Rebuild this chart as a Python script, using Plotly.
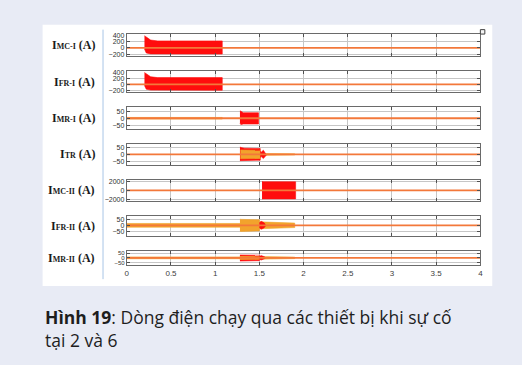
import plotly.graph_objects as go

W, H = 522, 365

# ---- time axis ----
time_range = [0, 4]
x_ticks = [0, 0.5, 1, 1.5, 2, 2.5, 3, 3.5, 4]
x_tick_text = ["0", "0.5", "1", "1.5", "2", "2.5", "3", "3.5", "4"]

# ---- panels (top to bottom) ----
panel_subscripts = ["MC-I", "FR-I", "MR-I", "TR", "MC-II", "FR-II", "MR-II"]
y_ranges = [[-270, 430], [-270, 430], [-75, 80], [-77, 77], [-2300, 2300], [-90, 75], [-80, 70]]
y_ticks = [[-200, 0, 200, 400], [-200, 0, 200, 400], [-50, 0, 50], [-50, 0, 50],
           [-2000, 0, 2000], [-50, 0, 50], [-50, 0, 50]]
y_tick_font = [7, 7, 7, 7, 7, 7, 6]

# steady-state trace (current ~ 0) on every panel
baseline_t = [0, 4]
baseline_v = [0, 0]

# ---- oscillation envelopes (time s, upper A, lower A) ----
mc1_burst_t = [0.20, 0.22, 0.27, 0.35, 1.08]
mc1_burst_hi = [385, 340, 245, 218, 218]
mc1_burst_lo = [-40, -165, -195, -200, -200]

fr1_burst_t = [0.20, 0.22, 0.27, 0.35, 1.08]
fr1_burst_hi = [390, 345, 250, 222, 222]
fr1_burst_lo = [-40, -160, -192, -198, -198]

mr1_ripple_t = [0.0, 1.08]
mr1_ripple_hi = [6, 6]
mr1_ripple_lo = [-6, -6]
mr1_burst_t = [1.28, 1.29, 1.32, 1.49]
mr1_burst_hi = [55, 50, 40, 40]
mr1_burst_lo = [-35, -46, -42, -42]

tr_burst_t = [1.28, 1.29, 1.33, 1.51]
tr_burst_hi = [55, 50, 45, 42]
tr_burst_lo = [-45, -48, -45, -42]
tr_core_t = [1.285, 1.51]
tr_core_hi = [32, 30]
tr_core_lo = [-32, -30]
tr_head_t = [1.51, 1.52, 1.545, 1.58]
tr_head_hi = [22, 16, 30, 4]
tr_head_lo = [-22, -16, -30, -4]
tr_tail_t = [1.56, 1.90]
tr_tail_hi = [6, 4]
tr_tail_lo = [-6, -4]

mc2_burst_t = [1.53, 1.55, 1.91]
mc2_burst_hi = [1950, 1880, 1880]
mc2_burst_lo = [-1900, -1850, -1850]

fr2_ripple_t = [0.0, 1.28]
fr2_ripple_hi = [15, 15]
fr2_ripple_lo = [-15, -15]
fr2_burst_t = [1.28, 1.29, 1.50]
fr2_burst_hi = [50, 48, 45]
fr2_burst_lo = [-48, -50, -45]
fr2_head_t = [1.50, 1.52, 1.55, 1.565]
fr2_head_hi = [20, 32, 22, 10]
fr2_head_lo = [-20, -32, -22, -10]
fr2_tail_t = [1.50, 1.56, 1.80, 1.90]
fr2_tail_hi = [28, 26, 22, 18]
fr2_tail_lo = [-28, -26, -22, -18]

mr2_ripple_t = [0.0, 1.28]
mr2_ripple_hi = [10, 10]
mr2_ripple_lo = [-10, -10]
mr2_burst_t = [1.28, 1.50]
mr2_burst_hi = [30, 28]
mr2_burst_lo = [-34, -30]
mr2_core_t = [1.28, 1.50]
mr2_core_hi = [16, 15]
mr2_core_lo = [-18, -16]
mr2_head_t = [1.50, 1.52, 1.55, 1.565]
mr2_head_hi = [14, 24, 14, 6]
mr2_head_lo = [-14, -24, -14, -6]
mr2_tail_t = [1.50, 1.90]
mr2_tail_hi = [14, 8]
mr2_tail_lo = [-14, -8]

RED = "#ff0d0d"
YEL = "#f2a32c"
ORG = "#f3783a"

# (panel index, colour, t, upper, lower) in drawing order
envelopes = [
    (0, RED, mc1_burst_t, mc1_burst_hi, mc1_burst_lo),
    (1, RED, fr1_burst_t, fr1_burst_hi, fr1_burst_lo),
    (2, YEL, mr1_ripple_t, mr1_ripple_hi, mr1_ripple_lo),
    (2, RED, mr1_burst_t, mr1_burst_hi, mr1_burst_lo),
    (3, RED, tr_burst_t, tr_burst_hi, tr_burst_lo),
    (3, YEL, tr_core_t, tr_core_hi, tr_core_lo),
    (3, YEL, tr_tail_t, tr_tail_hi, tr_tail_lo),
    (3, RED, tr_head_t, tr_head_hi, tr_head_lo),
    (4, RED, mc2_burst_t, mc2_burst_hi, mc2_burst_lo),
    (5, YEL, fr2_ripple_t, fr2_ripple_hi, fr2_ripple_lo),
    (5, YEL, fr2_burst_t, fr2_burst_hi, fr2_burst_lo),
    (5, YEL, fr2_tail_t, fr2_tail_hi, fr2_tail_lo),
    (5, RED, fr2_head_t, fr2_head_hi, fr2_head_lo),
    (6, YEL, mr2_ripple_t, mr2_ripple_hi, mr2_ripple_lo),
    (6, RED, mr2_burst_t, mr2_burst_hi, mr2_burst_lo),
    (6, YEL, mr2_core_t, mr2_core_hi, mr2_core_lo),
    (6, YEL, mr2_tail_t, mr2_tail_hi, mr2_tail_lo),
    (6, RED, mr2_head_t, mr2_head_hi, mr2_head_lo),
]

# ---- layout geometry (pixels) ----
plot_left, plot_right = 126, 483
panel_px = [(31.7, 54), (69.3, 90.7), (105.7, 127.3), (142.7, 164.3),
            (179.3, 200.7), (216, 236.7), (251.7, 266)]


def px_x(v):
    return v / W


def px_y(v):
    return 1 - v / H


def ax_name(kind, n):
    return kind if n == 1 else f"{kind}{n}"


fig = go.Figure()

for idx, color, t, hi, lo in envelopes:
    n = idx + 1
    fig.add_trace(go.Scatter(
        x=list(t) + list(t)[::-1],
        y=list(hi) + list(lo)[::-1],
        fill="toself", fillcolor=color, mode="lines",
        line=dict(width=0.6, color=color),
        xaxis=ax_name("x", n), yaxis=ax_name("y", n),
        hoverinfo="skip", showlegend=False,
    ))

for i in range(7):
    n = i + 1
    fig.add_trace(go.Scatter(
        x=baseline_t, y=baseline_v, mode="lines",
        line=dict(color=ORG, width=1.8),
        xaxis=ax_name("x", n), yaxis=ax_name("y", n),
        hoverinfo="skip", showlegend=False,
    ))

layout = dict(
    width=W, height=H,
    margin=dict(l=0, r=0, t=0, b=0),
    paper_bgcolor="#e8ebf5", plot_bgcolor="white",
    showlegend=False,
)

axis_common = dict(
    showline=True, linecolor="#6a6a6a", linewidth=1, mirror="ticks",
    ticks="inside", ticklen=3, tickcolor="#505050", tickwidth=1,
    showgrid=True, gridcolor="#c6c6c6", gridwidth=1, zeroline=False,
    fixedrange=True,
)

annotations = []
for i in range(7):
    n = i + 1
    top, bot = panel_px[i]
    layout[ax_name("xaxis", n)] = dict(
        axis_common,
        domain=[px_x(plot_left), px_x(plot_right)],
        range=time_range, tickvals=x_ticks, ticktext=x_tick_text,
        showticklabels=(n == 7),
        tickfont=dict(family="Liberation Sans", size=8, color="#404040"),
        anchor=ax_name("y", n),
    )
    layout[ax_name("yaxis", n)] = dict(
        axis_common,
        domain=[px_y(bot), px_y(top)],
        range=y_ranges[i], tickvals=y_ticks[i],
        tickfont=dict(family="Liberation Sans", size=y_tick_font[i], color="#303030"),
        anchor=ax_name("x", n),
    )
    annotations.append(dict(
        xref="paper", yref="paper", x=px_x(96), y=px_y((top + bot) / 2),
        xanchor="right", yanchor="middle", showarrow=False,
        text=f"<b>I<span style='font-size:8px'>{panel_subscripts[i]}</span> (A)</b>",
        font=dict(family="Liberation Serif", size=12, color="#1a1a1a"),
    ))

caption = ("<b>Hình 19</b>: Dòng điện chạy qua các thiết bị khi sự cố"
           "<br>tại 2 và 6")
annotations.append(dict(
    xref="paper", yref="paper", x=px_x(41), y=px_y(330),
    xanchor="left", yanchor="middle", align="left", showarrow=False,
    text=caption,
    font=dict(family="Open Sans", size=17.5, color="#1e1e1e"),
))
layout["annotations"] = annotations

layout["shapes"] = [
    # white figure panel
    dict(type="rect", xref="paper", yref="paper", layer="below",
         x0=px_x(41), x1=px_x(495), y0=px_y(287), y1=px_y(22),
         fillcolor="white", line=dict(width=0)),
    # thin blue separator left of the tick labels
    dict(type="line", xref="paper", yref="paper",
         x0=px_x(102), x1=px_x(102), y0=px_y(280), y1=px_y(27),
         line=dict(color="#a8c6e6", width=1)),
    # small corner marker
    dict(type="rect", xref="paper", yref="paper",
         x0=px_x(483), x1=px_x(487.5), y0=px_y(31.5), y1=px_y(27),
         fillcolor="#f4f4f4", line=dict(color="#404040", width=1)),
]

fig.update_layout(**layout)
fig.write_html("out.html")
